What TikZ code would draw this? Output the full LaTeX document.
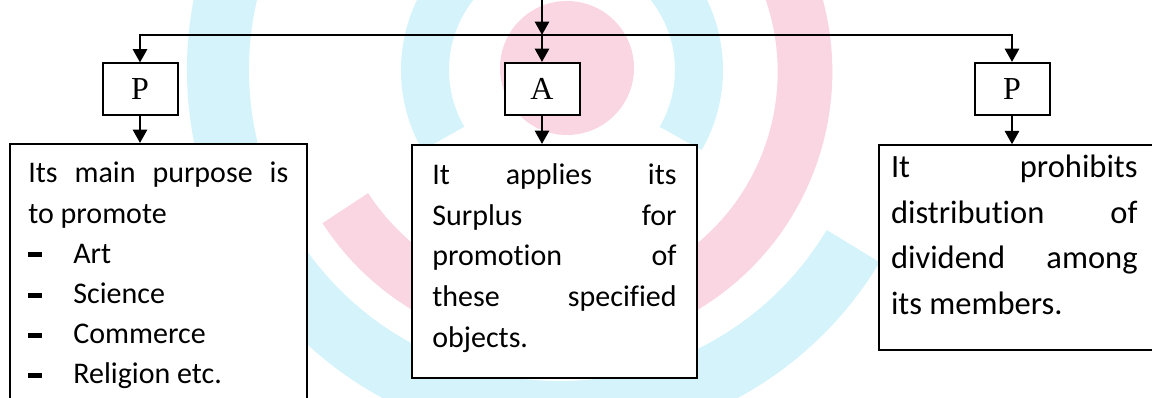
\documentclass[tikz,border=0pt]{standalone}
\usepackage{fontspec}
\setmainfont{Carlito}[Ligatures=NoCommon]
\newfontfamily\letterfont{Liberation Serif}
\usetikzlibrary{arrows.meta}

\definecolor{markblue}{RGB}{212,243,251}
\definecolor{markpink}{RGB}{250,214,227}

% short black bar in front of each listed object
\newcommand{\dashbar}{\rule[4.5pt]{10.5pt}{3.75pt}\hspace{23.25pt}}

\begin{document}
\begin{tikzpicture}[x=0.75pt,y=0.75pt,yscale=-1,xscale=1,
    conn/.style={line width=2pt},
    arr/.style={conn,-{Triangle[length=10pt,width=10.5pt]}},
    letterbox/.style={draw,line width=1.5pt,fill=white,minimum width=56.25pt,minimum height=39pt,inner sep=0pt,font=\letterfont\fontsize{24pt}{26pt}\selectfont},
    notebox/.style={draw,line width=1.5pt,fill=white,anchor=north west,inner ysep=0pt}]

    \useasboundingbox (0,0) rectangle (1152,398);
    \fill[white] (0,0) rectangle (1152,398);

    \begin{scope}
    \clip (0,0) rectangle (1152,398);
    % logo rings behind the chart
    \fill[markpink] (567,68) circle [radius=67];
    \draw[markblue,line width=36pt] (562,70) ++(150:137) arc [start angle=150,end angle=390,radius=137];
    \draw[markpink,line width=41pt] (555,72) ++(147:250) arc [start angle=147,end angle=-30,radius=250];
    \draw[markblue,line width=46.5pt] (560,70) ++(31:342) arc [start angle=31,end angle=205,radius=342];
    \end{scope}

    % P - A - P
    \node[letterbox] (p1) at (140,89.5) {P};
    \node[letterbox] (a) at (542,89) {A};
    \node[letterbox] (p2) at (1012,89) {P};

    % what each letter stands for
    \node[notebox,inner xsep=13.9pt] (promote) at (8.8,143) {\parbox[t][202.5pt][t]{195pt}{\fontsize{22.5pt}{30.15pt}\selectfont
        \rule{0pt}{29.25pt}Its\hfill main\hfill purpose\hfill is\\
        to promote\\
        \dashbar Art\\
        \dashbar Science\\
        \dashbar Commerce\\
        \dashbar Religion etc.}};
    \node[notebox,inner xsep=15.26pt] (surplus) at (411,144) {\parbox[t][174.75pt][t]{183.2pt}{\fontsize{22.5pt}{30.6pt}\selectfont
        \rule{0pt}{29.5pt}It\hfill applies\hfill its\\
        Surplus\hfill for\\
        promotion\hfill of\\
        these\hfill specified\\
        objects.}};
    % this one runs on past the right edge
    \node[notebox,inner xsep=8.78pt] (dividend) at (878.3,144.3) {\parbox[t][153.75pt][t]{230pt}{\rightskip=45pt\fontsize{24.4pt}{34.1pt}\selectfont
        \rule{0pt}{24.3pt}It\hfill prohibits\\
        distribution\hfill of\\
        dividend\hfill among\\
        its members.}};

    % arrows
    \coordinate (src) at (542,-4);
    \coordinate (bus) at (542,35);
    \draw[arr] (src) -- (bus);
    \draw[conn,line cap=rect] (p1.north |- bus) -- (p2.north |- bus);
    \draw[arr] (p1.north |- bus) -- (p1.north);
    \draw[arr] (a.north |- bus) -- (a.north);
    \draw[arr] (p2.north |- bus) -- (p2.north);
    \draw[arr] (p1.south) -- (p1.south |- promote.north);
    \draw[arr] (a.south) -- (a.south |- surplus.north);
    \draw[arr] (p2.south) -- (p2.south |- dividend.north);

\end{tikzpicture}
\end{document}
